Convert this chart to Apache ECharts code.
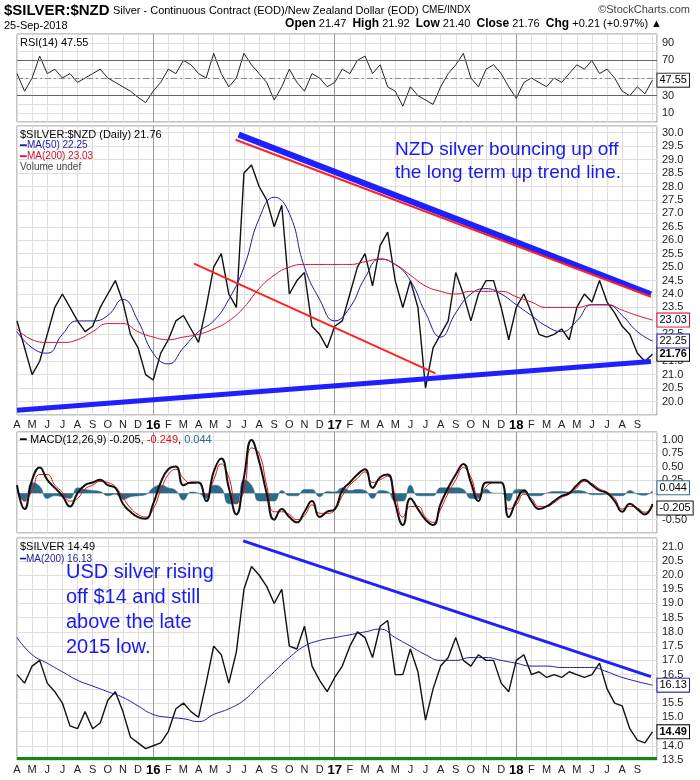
<!DOCTYPE html>
<html>
<head>
<meta charset="utf-8">
<script src="https://cdn.jsdelivr.net/npm/echarts@6/dist/echarts.min.js"></script>
<style>
  html, body { margin: 0; padding: 0; background: #fff; }
  #chart { width: 700px; height: 780px; }
</style>
</head>
<body>
<div id="chart"></div>
<script>
// $SILVER:$NZD daily, 4 panels (RSI / price / MACD / USD silver)
// one point every half month from Apr-2015, last point = 25-Sep-2018

const MONTHS = "JFMAMJJASOND";
const START_MONTH = 3; // April
const START_YEAR = 15;

const RSI = [
  55, 35, 50, 75, 55, 60, 50, 55, 45, 50,
  55, 60, 50, 45, 40, 35, 28, 22, 35, 45,
  60, 55, 70, 65, 55, 50, 78, 55, 40, 50,
  78, 65, 55, 45, 25, 40, 60, 45, 35, 55,
  50, 40, 45, 60, 55, 70, 75, 55, 65, 40,
  35, 18, 40, 30, 25, 20, 40, 55, 65, 78,
  50, 40, 60, 65, 55, 40, 27, 45, 50, 45,
  40, 50, 45, 55, 65, 60, 70, 55, 60, 50,
  35, 30, 40, 32, 47.55
];

const NZD = [
  23.0, 22.0, 21.0, 21.5, 22.5, 23.5, 24.0, 23.5, 23.0, 22.6,
  22.8, 23.5, 24.0, 24.5, 23.7, 22.5, 22.0, 21.0, 20.8, 21.8,
  22.3, 23.0, 23.2, 22.7, 22.2, 23.5, 25.0, 25.5, 24.0, 23.5,
  28.5, 28.8, 28.0, 27.5, 26.5, 27.3, 24.0, 24.5, 24.8, 22.8,
  22.5, 22.0, 22.8, 23.0, 24.0, 25.0, 25.5, 24.3, 25.8, 26.3,
  24.5, 23.5, 24.5, 23.5, 20.5, 22.0, 22.5, 23.0, 24.8, 24.0,
  23.0, 24.0, 24.5, 24.5, 23.5, 22.3, 23.5, 24.0, 23.3, 22.5,
  22.4, 22.5, 22.7, 22.3, 23.5, 24.0, 23.7, 24.5, 23.7, 23.3,
  22.8, 22.5, 21.8, 21.5, 21.76
];

// moving averages: one value per month start, plus the last day
const NZD_MA50 = [
  22.6, 22.0, 21.8, 22.5, 23.0, 23.0, 23.2, 23.8, 23.0,
  21.8, 21.4, 22.0, 22.6, 23.0, 23.8, 25.0, 26.8, 27.6, 27.0, 25.0, 23.8,
  23.0, 23.5, 24.6, 25.3, 25.1, 24.5, 23.3, 22.4, 23.3, 24.0, 24.2, 24.0,
  23.6, 23.2, 22.8, 22.6, 23.0, 23.6, 23.6, 23.2, 22.6, 22.25
];
const NZD_MA200 = [
  22.7, 22.3, 22.2, 22.2, 22.3, 22.6, 22.9, 22.9, 22.6,
  22.4, 22.3, 22.4, 22.5, 22.7, 23.0, 23.5, 24.2, 24.7, 25.0, 25.1, 25.1,
  25.1, 25.1, 25.2, 25.3, 25.1, 24.7, 24.3, 24.1, 24.0, 24.1, 24.1, 24.1,
  23.9, 23.7, 23.5, 23.5, 23.5, 23.6, 23.6, 23.4, 23.2, 23.03
];

const MACD = [
  0.15, -0.30, 0.25, 0.48, 0.25, 0.10, -0.05, -0.25, 0.00, 0.15,
  0.20, 0.25, 0.15, 0.10, -0.20, -0.35, -0.45, -0.48, -0.20, 0.20,
  0.45, 0.50, 0.15, 0.20, 0.20, -0.15, 0.40, 0.65, 0.10, -0.40,
  0.30, 1.00, 0.60, 0.00, -0.50, -0.30, -0.45, -0.55, -0.35, -0.15,
  -0.45, -0.35, -0.30, 0.05, 0.20, 0.35, 0.45, 0.10, 0.30, 0.35,
  -0.20, -0.60, -0.10, -0.30, -0.50, -0.60, -0.20, 0.10, 0.35, 0.55,
  0.20, -0.15, 0.20, 0.20, 0.20, -0.45, -0.15, 0.05, -0.15, -0.30,
  -0.25, -0.15, -0.05, 0.00, 0.15, 0.25, 0.15, 0.05, 0.00, -0.15,
  -0.35, -0.20, -0.30, -0.40, -0.205
];
const SIGNAL = [
  0.10, -0.15, 0.05, 0.35, 0.35, 0.15, 0.02, -0.15, -0.10, 0.08,
  0.15, 0.22, 0.20, 0.12, -0.08, -0.28, -0.40, -0.45, -0.30, 0.05,
  0.35, 0.45, 0.28, 0.18, 0.20, -0.05, 0.25, 0.55, 0.30, -0.20,
  0.05, 0.85, 0.75, 0.15, -0.35, -0.35, -0.40, -0.50, -0.42, -0.22,
  -0.38, -0.38, -0.32, -0.05, 0.15, 0.28, 0.40, 0.20, 0.25, 0.32,
  -0.05, -0.45, -0.25, -0.25, -0.45, -0.55, -0.30, 0.00, 0.25, 0.48,
  0.30, -0.05, 0.12, 0.20, 0.20, -0.30, -0.22, -0.02, -0.10, -0.25,
  -0.25, -0.18, -0.08, -0.02, 0.10, 0.22, 0.18, 0.08, 0.02, -0.10,
  -0.30, -0.25, -0.28, -0.36, -0.249
];

const USD = [
  16.5, 16.2, 16.8, 17.0, 16.2, 15.9, 15.5, 14.7, 14.6, 15.2,
  14.6, 14.8, 15.6, 15.9, 15.2, 14.3, 14.1, 13.9, 14.0, 14.1,
  14.5, 15.3, 15.5, 15.2, 15.0, 16.2, 17.5, 17.2, 16.2, 17.3,
  19.5, 20.3, 20.0, 19.6, 19.0, 19.5, 17.5, 17.4, 18.2, 16.8,
  16.3, 15.9, 16.4, 16.8, 17.5, 18.0, 17.8, 17.1, 18.2, 18.4,
  16.5, 16.5, 17.4, 16.6, 14.9, 16.0, 16.8, 17.1, 17.8, 17.0,
  16.8, 17.2, 17.0, 17.0, 16.2, 15.9, 17.0, 17.2, 16.5, 16.6,
  16.4, 16.5, 16.4, 16.6, 16.5, 16.4, 16.5, 16.9, 16.0, 15.5,
  15.4, 14.6, 14.2, 14.1, 14.49
];
const USD_MA200 = [
  17.8, 17.2, 16.9, 16.6, 16.3, 16.1, 15.9, 15.7, 15.4,
  15.1, 15.0, 14.95, 14.85, 15.1, 15.3, 15.6, 16.1, 16.6, 17.1, 17.5, 17.7,
  17.8, 17.9, 18.0, 18.1, 17.8, 17.5, 17.2, 17.0, 17.0, 17.1, 17.1, 17.0,
  16.9, 16.8, 16.8, 16.75, 16.75, 16.75, 16.6, 16.4, 16.13
];

// trend lines drawn on the chart: [index, value] endpoints
const NZD_TOP_BLUE = [[29.3, 29.93], [83.8, 23.99]];
const NZD_TOP_RED = [[28.9, 29.74], [83.8, 23.9]];
const NZD_LOW_RED = [[23.4, 25.13], [55.3, 21.05]];
const NZD_LOW_BLUE = [[0, 19.68], [83.8, 21.49]];
const USD_TOP_BLUE = [[29.9, 21.2], [83.8, 16.43]];
const USD_FLOOR = 13.55;

const FONT = "Liberation Sans, Arial, sans-serif";
const LAST = RSI.length - 1;

const pts = (arr) => arr.map((v, i) => [i, v]);
const monthly = (arr) => arr.map((v, k) => [k === arr.length - 1 ? LAST : k * 2, v]);

function monthLabel(v) {
    if (v >= LAST) return "";
    const k = Math.round(v / 2);
    const m = (START_MONTH + k) % 12;
    if (m === 0) return "{yr|" + (START_YEAR + Math.floor((START_MONTH + k) / 12)) + "}";
    return MONTHS[m];
}

// darker vertical line at each January
const vColors = [];
for (let k = 0; k < 12; k++) vColors.push((START_MONTH + k) % 12 === 0 ? "#9a9a9a" : "#dedede");

const GRIDS = [
    { top: 34, height: 88 },
    { top: 126, height: 289 },
    { top: 432, height: 101 },
    { top: 538, height: 222 }
];

const chart = echarts.init(document.getElementById("chart"));

function xAxis(idx, showLabels) {
    return {
        type: "value", gridIndex: idx, min: 0, max: 84.6, interval: 2,
        axisLine: { show: false }, axisTick: { show: false },
        splitLine: { show: true, lineStyle: { color: vColors, width: 1 } },
        axisLabel: {
            show: showLabels, formatter: monthLabel, showMaxLabel: false,
            color: "#222", fontSize: 11, fontFamily: FONT, margin: 4,
            rich: { yr: { fontWeight: "bold", fontSize: 13, fontFamily: FONT, color: "#000" } }
        }
    };
}

function yAxis(idx, opts, fmt) {
    return Object.assign({
        type: "value", gridIndex: idx, position: "right",
        axisLine: { show: false }, axisTick: { show: false },
        splitLine: { lineStyle: { color: "#dedede" } },
        axisLabel: { color: "#222", fontSize: 11, fontFamily: FONT, margin: 5, formatter: fmt }
    }, opts);
}

const boxLabel = (color, text, bold) => ({
    show: true, formatter: text, color: "#000", fontSize: 11, fontFamily: FONT,
    fontWeight: bold ? "bold" : "normal",
    backgroundColor: "#fff", borderColor: color, borderWidth: 1, padding: [1, 2], distance: 5
});

const trend = (data, xi, color, width) => ({
    type: "line", xAxisIndex: xi, yAxisIndex: xi, data, symbol: "none",
    lineStyle: { color, width }, silent: true, z: 4
});

const hist = MACD.map((v, i) => [i, +(v - SIGNAL[i]).toFixed(3)]);

chart.setOption({
    animation: false,
    grid: GRIDS.map((g) => ({ left: 17, right: 43, top: g.top, height: g.height, show: true, borderColor: "#8a8a8a", borderWidth: 1 })),
    xAxis: [xAxis(0, false), xAxis(1, true), xAxis(2, false), xAxis(3, true)],
    yAxis: [
        yAxis(0, { min: 0, max: 100, interval: 10 }, (v) => ([10, 30, 70, 90].includes(v) ? String(v) : "")),
        yAxis(1, { min: 19.5, max: 30.25, interval: 0.5 }, null),
        yAxis(2, { min: -0.75, max: 1.15, interval: 0.25 }, (v) => ([1, 0.75, 0.5, 0.25, -0.5].includes(+v.toFixed(2)) ? v.toFixed(2) : "")),
        yAxis(3, { min: 13.5, max: 21.3, interval: 0.5 }, (v) => v.toFixed(1))
    ].map((a, i) => {
        if (i === 1) {
            a.axisLabel = { color: "#222", fontSize: 11, fontFamily: FONT, margin: 5, showMinLabel: false, showMaxLabel: false, formatter: (v) => v.toFixed(1) };
        }
        if (i === 3) a.axisLabel.showMaxLabel = false;
        return a;
    }),
    series: [
        // RSI
        {
            type: "line", xAxisIndex: 0, yAxisIndex: 0, data: pts(RSI), symbol: "none",
            lineStyle: { color: "#222", width: 1 },
            endLabel: boxLabel("#222", "47.55"),
            markLine: {
                symbol: "none", silent: true, label: { show: false },
                data: [
                    { yAxis: 70, lineStyle: { color: "#666", type: "solid", width: 1 } },
                    { yAxis: 30, lineStyle: { color: "#666", type: "solid", width: 1 } },
                    { yAxis: 50, lineStyle: { color: "#888", type: [6, 3, 2, 3], width: 1 } }
                ]
            }
        },
        // NZD price + MAs
        {
            type: "line", xAxisIndex: 1, yAxisIndex: 1, data: pts(NZD), symbol: "none",
            lineStyle: { color: "#111", width: 1.4 }, z: 3,
            endLabel: boxLabel("#000", "21.76", true)
        },
        {
            type: "line", xAxisIndex: 1, yAxisIndex: 1, data: monthly(NZD_MA50), symbol: "none", smooth: true,
            lineStyle: { color: "#1b1b9e", width: 1 }, endLabel: boxLabel("#1b1b9e", "22.25")
        },
        {
            type: "line", xAxisIndex: 1, yAxisIndex: 1, data: monthly(NZD_MA200), symbol: "none", smooth: true,
            lineStyle: { color: "#cc1133", width: 1 }, endLabel: boxLabel("#cc1133", "23.03")
        },
        trend(NZD_TOP_BLUE, 1, "#1f1fff", 6),
        trend(NZD_TOP_RED, 1, "#ff2222", 2),
        trend(NZD_LOW_RED, 1, "#ff2222", 2),
        trend(NZD_LOW_BLUE, 1, "#1f1fff", 5),
        // MACD histogram drawn as a filled area around zero
        {
            type: "line", xAxisIndex: 2, yAxisIndex: 2, data: hist, symbol: "none", smooth: true,
            lineStyle: { color: "#2d6a88", width: 0.5 },
            areaStyle: { color: "#2d6a88", origin: 0, opacity: 1 },
            endLabel: Object.assign(boxLabel("#2d6a88", "0.044"), { offset: [0, -3] })
        },
        {
            type: "line", xAxisIndex: 2, yAxisIndex: 2, data: pts(SIGNAL), symbol: "none", smooth: true,
            lineStyle: { color: "#e01010", width: 1 }
        },
        {
            type: "line", xAxisIndex: 2, yAxisIndex: 2, data: pts(MACD), symbol: "none", smooth: true,
            lineStyle: { color: "#111", width: 2 }, endLabel: Object.assign(boxLabel("#111", "-0.205"), { offset: [0, 4] })
        },
        // USD silver
        {
            type: "line", xAxisIndex: 3, yAxisIndex: 3, data: pts(USD), symbol: "none",
            lineStyle: { color: "#111", width: 1.4 }, z: 3,
            endLabel: boxLabel("#000", "14.49", true),
            markLine: {
                symbol: "none", silent: true, label: { show: false },
                data: [{ yAxis: USD_FLOOR, lineStyle: { color: "#118811", type: "solid", width: 3 } }]
            }
        },
        {
            type: "line", xAxisIndex: 3, yAxisIndex: 3, data: monthly(USD_MA200), symbol: "none", smooth: true,
            lineStyle: { color: "#1b1b9e", width: 1 }, endLabel: boxLabel("#1b1b9e", "16.13")
        },
        trend(USD_TOP_BLUE, 3, "#1f1fff", 3)
    ],
    graphic: [
        {
            type: "text", left: 4, top: 3,
            style: {
                text: "{a|$SILVER:$NZD} {b|Silver - Continuous Contract (EOD)/New Zealand Dollar (EOD)} {c|CME/INDX}",
                rich: {
                    a: { fontSize: 15, fontWeight: "bold", fontFamily: FONT, fill: "#000" },
                    b: { fontSize: 11, fontFamily: FONT, fill: "#000" },
                    c: { fontSize: 10, fontFamily: FONT, fill: "#000" }
                }
            }
        },
        { type: "text", right: 10, top: 4, style: { text: "©StockCharts.com", fontSize: 11, fontFamily: FONT, fill: "#444" } },
        { type: "text", left: 4, top: 20, style: { text: "25-Sep-2018", fontSize: 11, fontFamily: FONT, fill: "#000" } },
        {
            type: "text", right: 38, top: 18,
            style: {
                text: "{k|Open} 21.47  {k|High} 21.92  {k|Low} 21.40  {k|Close} 21.76  {k|Chg} +0.21 (+0.97%) ▲",
                fontSize: 11, fontFamily: FONT, fill: "#000",
                rich: { k: { fontWeight: "bold", fontSize: 12, fontFamily: FONT, fill: "#000" } }
            }
        },
        { type: "text", left: 20, top: 37, z: 10, style: { text: "RSI(14) 47.55", fontSize: 11, fontFamily: FONT, fill: "#000", backgroundColor: "#fff" } },
        {
            type: "text", left: 20, top: 129, z: 10,
            style: {
                text: "$SILVER:$NZD (Daily) 21.76\n{n|━}{nt|MA(50) 22.25}\n{r|━}{rt|MA(200) 23.03}\n{g|Volume undef}",
                fontSize: 11, fontFamily: FONT, fill: "#000", lineHeight: 11,
                rich: {
                    n: { fill: "#1b1b9e", fontSize: 11 }, nt: { fill: "#1b1b9e", fontSize: 10, fontFamily: FONT },
                    r: { fill: "#cc1133", fontSize: 11 }, rt: { fill: "#cc1133", fontSize: 10, fontFamily: FONT },
                    g: { fill: "#444", fontSize: 10, fontFamily: FONT }
                }
            }
        },
        {
            type: "text", left: 395, top: 138, z: 10,
            style: { text: "NZD silver bouncing up off\nthe long term up trend line.", fontSize: 19, lineHeight: 23, fontFamily: FONT, fill: "#1a1aee" }
        },
        {
            type: "text", left: 20, top: 434, z: 10,
            style: {
                text: "━ MACD(12,26,9) -0.205, {r|-0.249}, {t|0.044}",
                fontSize: 11, fontFamily: FONT, fill: "#000",
                rich: { r: { fill: "#e01010", fontSize: 11, fontFamily: FONT }, t: { fill: "#2d6a88", fontSize: 11, fontFamily: FONT } }
            }
        },
        {
            type: "text", left: 20, top: 540, z: 10,
            style: {
                text: "$SILVER 14.49\n{n|━MA(200) 16.13}",
                fontSize: 11, fontFamily: FONT, fill: "#000", lineHeight: 13,
                rich: { n: { fill: "#1b1b9e", fontSize: 10, fontFamily: FONT } }
            }
        },
        {
            type: "text", left: 66, top: 560, z: 10,
            style: { text: "USD silver rising\noff $14 and still\nabove the late\n2015 low.", fontSize: 20, lineHeight: 25, fontFamily: FONT, fill: "#1a1aee" }
        }
    ]
});
</script>
</body>
</html>
